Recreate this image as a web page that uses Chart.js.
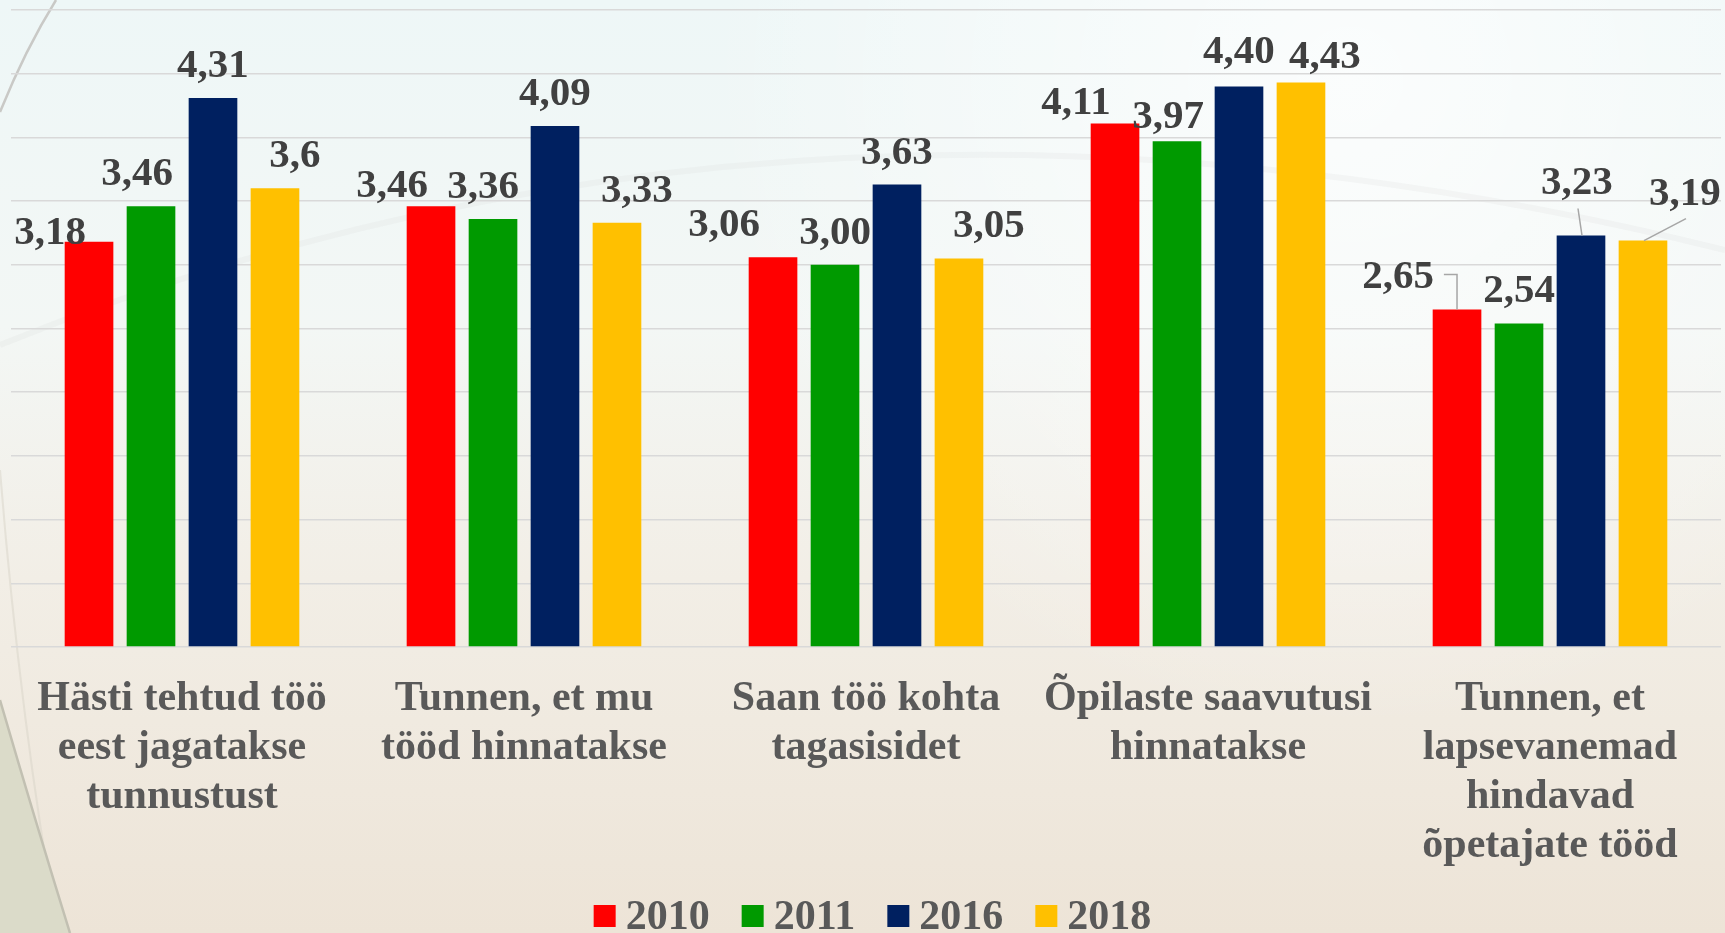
<!DOCTYPE html>
<html lang="et">
<head>
<meta charset="utf-8">
<title>Tunnustus ja tagasiside</title>
<script src="https://cdn.jsdelivr.net/npm/chart.js@4.4.1/dist/chart.umd.min.js"></script>
<style>
  html, body { margin: 0; padding: 0; overflow: hidden; }
  canvas { display: block; }
</style>
</head>
<body>
<canvas id="grafico" width="1725" height="933"></canvas>
<script>
    // Dados do gráfico
    const categorias = [
        ['Hästi tehtud töö', 'eest jagatakse', 'tunnustust'],
        ['Tunnen, et mu', 'tööd hinnatakse'],
        ['Saan töö kohta', 'tagasisidet'],
        ['Õpilaste saavutusi', 'hinnatakse'],
        ['Tunnen, et', 'lapsevanemad', 'hindavad', 'õpetajate tööd']
    ];
    const anos = ['2010', '2011', '2016', '2018'];
    const valores2010 = [3.18, 3.46, 3.06, 4.11, 2.65];
    const valores2011 = [3.46, 3.36, 3.00, 3.97, 2.54];
    const valores2016 = [4.31, 4.09, 3.63, 4.40, 3.23];
    const valores2018 = [3.6, 3.33, 3.05, 4.43, 3.19];
    const casas2018 = [1, 2, 2, 2, 2]; // "3,6" aparece com uma casa só
    const eixoMin = 0;
    const eixoMax = 5;
    const eixoPasso = 0.5;

    const cores = ['#FF0000', '#009A00', '#002060', '#FFC000'];
    const fonte = '"Liberation Serif", "Times New Roman", serif';

    // Deslocamento manual de cada rótulo [dx, dy] em px (como no original)
    const ajustes = [
        [[-39, 23], [-39, 12], [-49, 0], [-39, 12], [-59, 0]],
        [[-14, 0], [-10, 0], [0, 0], [-9, 8], [0, 0]],
        [[0, 0], [0, 0], [0, 0], [0, -2], [-4, -20]],
        [[20, 0], [20, 0], [30, 0], [24, 6], [42, -15]]
    ];
    // Linhas-guia dos rótulos afastados
    const guias = { '0-4': 'cotovelo', '2-4': 'reta', '3-4': 'reta' };

    function formatar(valor, casas) {
        return valor.toFixed(casas).replace('.', ',');
    }

    // Fundo claro com as curvas do slide
    const pluginFundo = {
        id: 'fundo',
        beforeDraw(chart) {
            const { ctx, width, height } = chart;
            ctx.save();
            const g = ctx.createLinearGradient(0, 0, 0, height);
            g.addColorStop(0, '#eef7f7');
            g.addColorStop(0.35, '#f3f7f5');
            g.addColorStop(0.62, '#f2eee6');
            g.addColorStop(1, '#ede4d7');
            ctx.fillStyle = g;
            ctx.fillRect(0, 0, width, height);

            const r = ctx.createRadialGradient(1350, 80, 0, 1350, 80, 650);
            r.addColorStop(0, 'rgba(255,255,255,0.75)');
            r.addColorStop(1, 'rgba(255,255,255,0)');
            ctx.fillStyle = r;
            ctx.fillRect(0, 0, width, height);

            // arco suave (quase invisível)
            ctx.beginPath();
            ctx.moveTo(0, 345);
            ctx.quadraticCurveTo(800, 20, 1725, 250);
            ctx.strokeStyle = 'rgba(210,210,205,0.15)';
            ctx.lineWidth = 6;
            ctx.stroke();

            // curva cinza no topo à esquerda
            ctx.beginPath();
            ctx.moveTo(56, 0);
            ctx.quadraticCurveTo(25, 50, 0, 112);
            ctx.strokeStyle = '#c9c9c6';
            ctx.lineWidth = 2.5;
            ctx.stroke();

            // faixa clara à esquerda
            ctx.beginPath();
            ctx.moveTo(0, 470);
            ctx.quadraticCurveTo(20, 720, 58, 933);
            ctx.strokeStyle = 'rgba(215,212,200,0.5)';
            ctx.lineWidth = 2;
            ctx.stroke();

            // região esverdeada no canto inferior esquerdo
            ctx.beginPath();
            ctx.moveTo(0, 700);
            ctx.quadraticCurveTo(35, 820, 70, 933);
            ctx.lineTo(0, 933);
            ctx.closePath();
            ctx.fillStyle = '#dbdbc9';
            ctx.fill();
            ctx.beginPath();
            ctx.moveTo(0, 700);
            ctx.quadraticCurveTo(35, 820, 70, 933);
            ctx.strokeStyle = '#c2c0b2';
            ctx.lineWidth = 2.5;
            ctx.stroke();
            ctx.restore();
        }
    };

    // Rótulos com os valores acima das barras
    const pluginRotulos = {
        id: 'rotulos',
        afterDatasetsDraw(chart) {
            const ctx = chart.ctx;
            ctx.save();
            ctx.font = 'bold 41px ' + fonte;
            ctx.textAlign = 'center';
            ctx.textBaseline = 'alphabetic';
            chart.data.datasets.forEach((ds, i) => {
                chart.getDatasetMeta(i).data.forEach((barra, j) => {
                    const casas = ds.casas ? ds.casas[j] : 2;
                    const texto = formatar(ds.data[j], casas);
                    const [dx, dy] = ajustes[i][j];
                    const x = barra.x + dx;
                    const y = barra.y - 21 + dy;
                    const guia = guias[i + '-' + j];
                    if (guia) {
                        ctx.beginPath();
                        if (guia === 'cotovelo') {
                            const w = ctx.measureText(texto).width;
                            ctx.moveTo(x + w / 2 + 10, y - 14);
                            ctx.lineTo(barra.x, y - 14);
                            ctx.lineTo(barra.x, barra.y);
                        } else {
                            ctx.moveTo(x + 1, y + 14);
                            ctx.lineTo(barra.x + 1, barra.y);
                        }
                        ctx.strokeStyle = '#a6a6a6';
                        ctx.lineWidth = 1.5;
                        ctx.stroke();
                    }
                    ctx.fillStyle = '#404040';
                    ctx.fillText(texto, x, y);
                });
            });
            ctx.restore();
        }
    };

    // Legenda desenhada à mão (quadrado colado ao texto)
    const pluginLegenda = {
        id: 'legenda',
        afterDraw(chart) {
            const ctx = chart.ctx;
            ctx.save();
            ctx.font = 'bold 42px ' + fonte;
            ctx.textBaseline = 'alphabetic';
            ctx.textAlign = 'left';
            const caixa = 22, folga = 10, espaco = 32;
            const itens = chart.data.datasets.map(ds => ({
                texto: ds.label,
                cor: ds.backgroundColor,
                largura: ctx.measureText(ds.label).width
            }));
            const total = itens.reduce((s, it) => s + caixa + folga + it.largura, 0) + espaco * (itens.length - 1);
            let x = chart.width / 2 + 10 - total / 2;
            itens.forEach(it => {
                ctx.fillStyle = it.cor;
                ctx.fillRect(x, 905, caixa, caixa);
                ctx.fillStyle = '#595959';
                ctx.fillText(it.texto, x + caixa + folga, 929);
                x += caixa + folga + it.largura + espaco;
            });
            ctx.restore();
        }
    };

    const series = [valores2010, valores2011, valores2016, valores2018];
    const datasets = series.map((valores, i) => ({
        label: anos[i],
        data: valores,
        backgroundColor: cores[i],
        categoryPercentage: 0.725,
        barPercentage: 0.785
    }));
    datasets[3].casas = casas2018;

    const ctx = document.getElementById('grafico').getContext('2d');
    new Chart(ctx, {
        type: 'bar',
        data: { labels: categorias, datasets: datasets },
        plugins: [pluginFundo, pluginRotulos, pluginLegenda],
        options: {
            responsive: false,
            animation: false,
            devicePixelRatio: 1,
            layout: { padding: { top: 10, left: 11, right: 4, bottom: 0 } },
            plugins: {
                legend: { display: false },
                tooltip: { enabled: false }
            },
            scales: {
                x: {
                    grid: { display: false, drawTicks: false },
                    border: { display: false },
                    ticks: {
                        color: '#595959',
                        padding: 28,
                        maxRotation: 0,
                        autoSkip: false,
                        font: { family: fonte, size: 42, weight: 'bold', lineHeight: 1.167 }
                    },
                    afterFit(escala) { escala.height = 286; }
                },
                y: {
                    min: eixoMin,
                    max: eixoMax,
                    ticks: { display: false, stepSize: eixoPasso },
                    grid: { color: '#d9d9d9', lineWidth: 1.5, drawTicks: false },
                    border: { display: false },
                    afterFit(escala) { escala.width = 0; }
                }
            }
        }
    });
</script>
</body>
</html>
